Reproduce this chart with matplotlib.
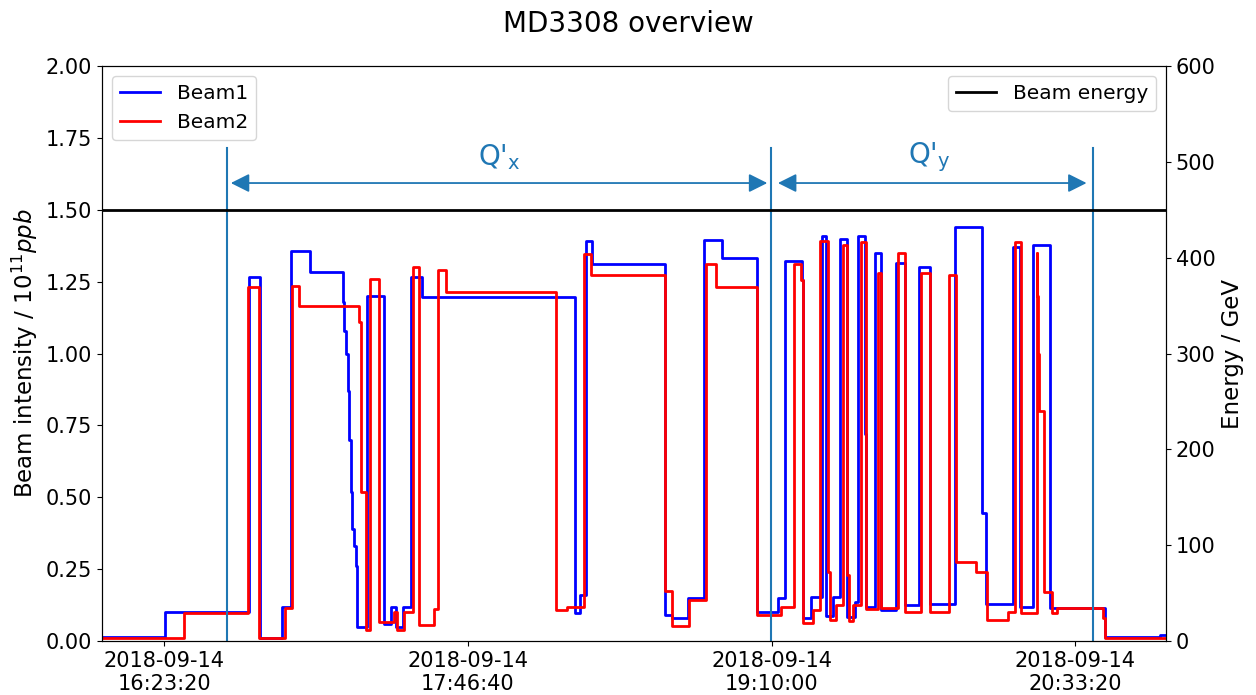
import numpy as np
import pandas as pd
import matplotlib
matplotlib.use("Agg")
import matplotlib.pyplot as plt
import matplotlib.dates as mdates

# times are minutes after 2018-09-14 16:00:00, values in 1e11 ppb (step levels)
b1_t = [6.31, 23.61, 46.67, 49.69, 55.81, 58.12, 63.42, 72.48, 72.76, 73.30, 73.72,
        74.13, 74.54, 74.95, 75.50, 75.91, 76.32, 79.07, 83.74, 85.58, 86.95, 88.76,
        90.96, 94.17, 136.18, 137.55, 139.20, 140.85, 160.62, 162.81, 166.93, 171.32,
        176.27, 185.88, 191.64, 193.76, 198.23, 198.64, 200.89, 203.81, 204.96, 206.83,
        208.80, 210.59, 212.78, 213.69, 215.53, 215.80, 218.27, 220.11, 224.04, 226.51,
        230.44, 233.38, 240.24, 247.65, 248.75, 256.08, 258.09, 261.74, 266.33, 281.43,
        296.53, 298.17]
b1_v = [0.015, 0.10, 1.267, 0.012, 0.118, 1.355, 1.283, 1.18, 1.08, 1.0, 0.87,
        0.70, 0.52, 0.39, 0.33, 0.26, 0.05, 1.20, 0.06, 0.12, 0.05, 0.12,
        1.265, 1.195, 0.097, 0.16, 1.39, 1.31, 0.09, 0.08, 0.15, 1.395,
        1.332, 0.10, 0.15, 1.323, 1.256, 0.08, 0.153, 1.41, 0.086, 0.154,
        1.397, 0.085, 0.137, 1.41, 0.72, 0.12, 1.35, 0.108, 1.316, 0.125,
        1.30, 0.13, 1.44, 0.445, 0.128, 1.37, 0.12, 1.377, 0.115, 0.015,
        0.022, 0.022]

b2_t = [6.31, 28.82, 46.40, 49.42, 56.56, 58.56, 60.40, 76.74, 77.34, 78.71, 79.81,
        82.37, 86.48, 87.31, 89.23, 91.51, 93.35, 97.47, 98.37, 100.68, 130.97, 133.99,
        138.46, 140.49, 160.62, 162.73, 167.29, 172.07, 174.81, 185.88, 192.66, 196.12,
        198.15, 198.59, 201.25, 203.17, 205.45, 206.11, 207.76, 209.57, 210.67, 211.22,
        212.32, 214.62, 215.80, 219.18, 220.11, 224.67, 226.51, 231.10, 233.38, 238.68,
        240.71, 246.20, 248.95, 254.79, 256.71, 258.28, 262.67, 262.89, 263.11, 263.30,
        264.68, 266.79, 268.16, 280.96, 281.43, 298.17]
b2_v = [0.009, 0.096, 1.23, 0.009, 0.115, 1.235, 1.165, 1.11, 0.52, 0.038, 1.26,
        0.067, 0.10, 0.038, 0.10, 1.30, 0.055, 0.11, 1.29, 1.215, 0.107, 0.12,
        1.345, 1.273, 0.175, 0.052, 0.143, 1.311, 1.232, 0.09, 0.12, 1.311,
        1.256, 0.062, 0.107, 1.39, 0.24, 0.073, 0.125, 1.377, 0.23, 0.07,
        0.125, 1.389, 0.11, 1.28, 0.115, 1.35, 0.10, 1.28, 0.10, 1.273,
        0.276, 0.241, 0.073, 0.10, 1.389, 0.097, 1.35, 1.2, 1.0, 0.80,
        0.17, 0.097, 0.115, 0.08, 0.009, 0.009]

energy_t = [6.31, 298.17]
energy_v = [450, 450]

scan_t = [40.63, 189.9, 278.13]          # vertical markers
qx_span = [41.65, 188.82]
qy_span = [191.73, 276.40]
tick_labels = ["2018-09-14 16:23:20", "2018-09-14 17:46:40",
               "2018-09-14 19:10:00", "2018-09-14 20:33:20"]

base = pd.Timestamp("2018-09-14 16:00:00")


def to_num(minutes):
    ts = base + pd.to_timedelta(np.asarray(minutes), unit="min")
    return mdates.date2num(ts.to_pydatetime())


fig, ax = plt.subplots(figsize=(12.56, 6.95), dpi=100)
plt.subplots_adjust(left=0.0812, right=0.9283, top=0.905, bottom=0.0777)

ax.plot(to_num(b1_t), b1_v, color="#0000ff", lw=2, drawstyle="steps-post", label="Beam1")
ax.plot(to_num(b2_t), b2_v, color="#ff0000", lw=2, drawstyle="steps-post", label="Beam2")

for t in scan_t:
    ax.axvline(to_num([t])[0], ymin=0, ymax=0.857, color="#1f77b4", lw=1.5)

arr = dict(arrowstyle="<|-|>", color="#1f77b4", lw=1.3, mutation_scale=28,
           shrinkA=0, shrinkB=0)
ax.annotate("", xy=(to_num([qx_span[0]])[0], 1.593), xytext=(to_num([qx_span[1]])[0], 1.593),
            arrowprops=arr)
ax.annotate("", xy=(to_num([qy_span[0]])[0], 1.593), xytext=(to_num([qy_span[1]])[0], 1.593),
            arrowprops=arr)
ax.text(to_num([115.3])[0], 1.683, r"Q'$_\mathrm{x}$", color="#1f77b4", fontsize=20,
        ha="center", va="center")
ax.text(to_num([233.4])[0], 1.683, r"Q'$_\mathrm{y}$", color="#1f77b4", fontsize=20,
        ha="center", va="center")

ax.set_ylim(0, 2.0)
ax.set_yticks(np.arange(0, 2.01, 0.25))
ax.set_xlim(to_num([energy_t[0]])[0], to_num([energy_t[-1]])[0])
ax.set_xticks(mdates.date2num(pd.to_datetime(tick_labels).to_pydatetime()))
ax.xaxis.set_major_formatter(mdates.DateFormatter("%Y-%m-%d\n%H:%M:%S"))
ax.tick_params(labelsize=15)
ax.set_ylabel(r"Beam intensity / $10^{11} ppb$", fontsize=16.5)
ax.legend(loc="upper left", fontsize=14.5)

ax2 = ax.twinx()
ax2.plot(to_num(energy_t), energy_v, color="black", lw=2, label="Beam energy")
ax2.set_ylim(0, 600)
ax2.set_ylabel("Energy / GeV", fontsize=16.5)
ax2.tick_params(labelsize=15)
ax2.legend(loc="upper right", fontsize=14.5)

fig.suptitle("MD3308 overview", fontsize=20, y=0.985)

plt.savefig("out.png", dpi=100)
plt.close()
